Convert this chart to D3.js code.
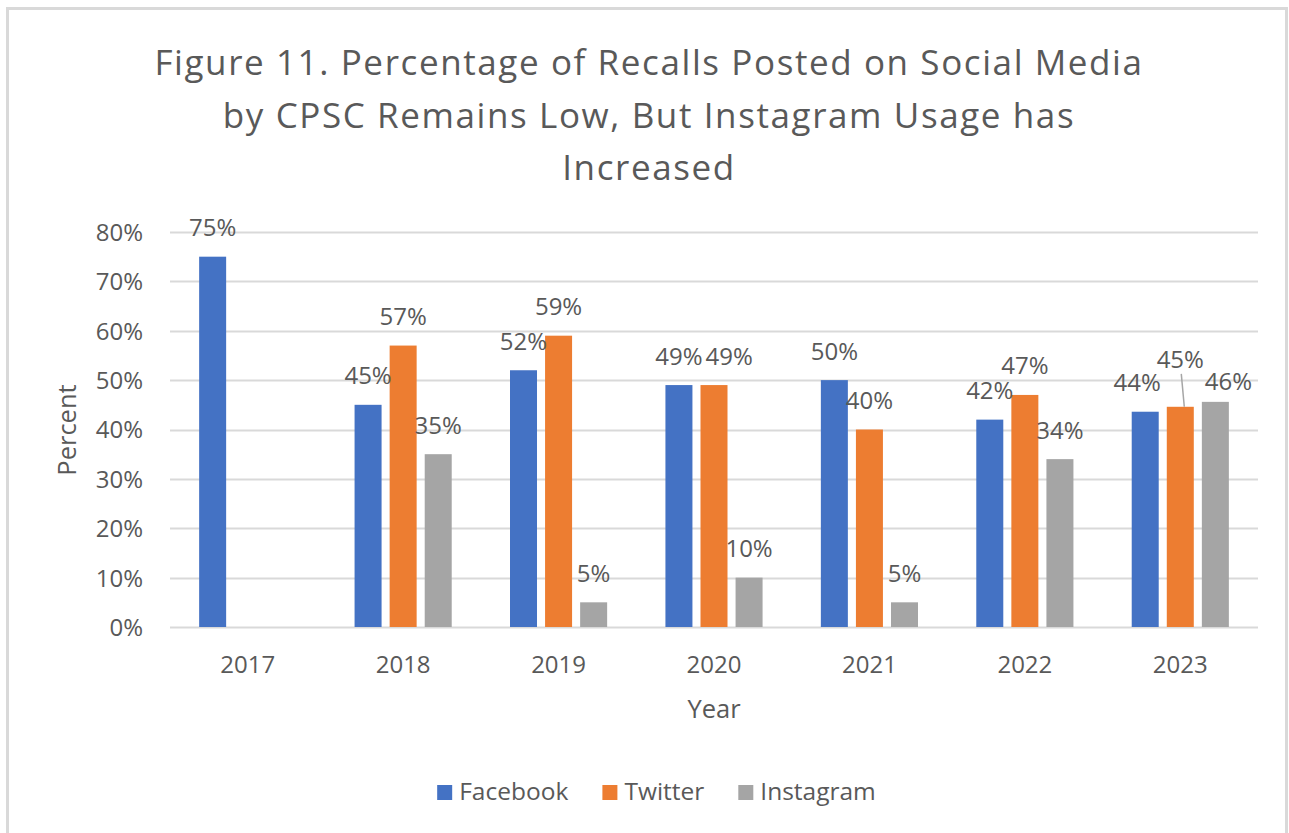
<!DOCTYPE html>
<html>
<head>
<meta charset="utf-8">
<script src="https://cdn.jsdelivr.net/npm/d3@7"></script>
<style>
  html, body { margin: 0; padding: 0; background: #fff; }
  svg { display: block; }
  text { font-family: "Open Sans", "Noto Sans", sans-serif; fill: #595959; }
</style>
</head>
<body>
<svg id="chart" width="1289" height="833"></svg>
<script>
// ---------- data ----------
const titleLines = [
  "Figure 11. Percentage of Recalls Posted on Social Media",
  "by CPSC Remains Low, But Instagram Usage has",
  "Increased"
];
const years = ["2017", "2018", "2019", "2020", "2021", "2022", "2023"];
const seriesNames = ["Facebook", "Twitter", "Instagram"];
const facebook  = [75, 45, 52, 49, 50, 42, 43.6];
const twitter   = [null, 57, 59, 49, 40, 47, 44.6];
const instagram = [null, 35, 5, 10, 5, 34, 45.6];
const yTicks = [0, 10, 20, 30, 40, 50, 60, 70, 80];
const xTitle = "Year";
const yTitle = "Percent";

// ---------- setup ----------
const colors = { Facebook: "#4472C4", Twitter: "#ED7D31", Instagram: "#A5A5A5" };
const values = { Facebook: facebook, Twitter: twitter, Instagram: instagram };

const svg = d3.select("#chart");
const plot = { left: 170, right: 1258, top: 232, bottom: 627 };

// chart border
svg.append("rect")
  .attr("x", 7.5).attr("y", 8.5)
  .attr("width", 1279).attr("height", 860)
  .attr("fill", "#fff")
  .attr("stroke", "#d9d9d9").attr("stroke-width", 3);

// title
svg.append("g").selectAll("text").data(titleLines).join("text")
  .attr("x", 649)
  .attr("y", (d, i) => 75 + i * 52.5)
  .attr("text-anchor", "middle")
  .style("font-size", "35px")
  .style("letter-spacing", "1.6px")
  .text(d => d);

// scales
const x0 = d3.scaleBand().domain(years)
  .range([plot.left, plot.right])
  .paddingInner(0.375).paddingOuter(0.1875);
const x1 = d3.scaleBand().domain(seriesNames)
  .range([0, x0.bandwidth()])
  .paddingInner(0.23).paddingOuter(0);
const y = d3.scaleLinear().domain([0, 80]).range([plot.bottom, plot.top]);

// gridlines
svg.append("g").selectAll("line").data(yTicks).join("line")
  .attr("x1", plot.left).attr("x2", plot.right)
  .attr("y1", d => Math.round(y(d)) + 0.5).attr("y2", d => Math.round(y(d)) + 0.5)
  .attr("stroke", "#d9d9d9").attr("stroke-width", 2);

// y axis (labels only)
const yAxis = d3.axisLeft(y).tickValues(yTicks).tickFormat(d => d + "%").tickSize(0).tickPadding(0);
const yg = svg.append("g").attr("transform", `translate(${plot.left - 27},0)`).call(yAxis);
yg.select(".domain").remove();
yg.selectAll("text").style("font-size", "24px").attr("fill", "#595959")
  .style("font-family", "'Open Sans', sans-serif").attr("dy", "0.35em");

// x axis (labels only)
const xAxis = d3.axisBottom(x0).tickSize(0).tickPadding(0);
const xg = svg.append("g").attr("transform", `translate(0,${plot.bottom})`).call(xAxis);
xg.select(".domain").remove();
xg.selectAll("text").style("font-size", "24px").attr("fill", "#595959")
  .style("font-family", "'Open Sans', sans-serif").attr("dy", null).attr("y", 46);

// axis titles
svg.append("text").attr("x", 714).attr("y", 718).attr("text-anchor", "middle")
  .style("font-size", "25.5px").text(xTitle);
svg.append("text").attr("transform", "translate(76,430) rotate(-90)").attr("text-anchor", "middle")
  .style("font-size", "25.5px").text(yTitle);

// bars
const barData = [];
years.forEach((yr, i) => {
  seriesNames.forEach(s => {
    const v = values[s][i];
    if (v !== null && v !== undefined) barData.push({ year: yr, series: s, value: v });
  });
});
svg.append("g").selectAll("rect").data(barData).join("rect")
  .attr("x", d => x0(d.year) + x1(d.series))
  .attr("y", d => y(d.value))
  .attr("width", x1.bandwidth())
  .attr("height", d => y(0) - y(d.value))
  .attr("fill", d => colors[d.series]);

// data labels
const labelG = svg.append("g");
const labels = barData.map(d => {
  const cx = x0(d.year) + x1(d.series) + x1.bandwidth() / 2;
  return { ...d, x: cx, cy: y(d.value) - 29, top: y(d.value), text: Math.round(d.value) + "%", leader: false };
});
labels.forEach(l => {
  const t = labelG.append("text").attr("text-anchor", "middle").style("font-size", "24px").text(l.text);
  l.node = t;
  l.w = t.node().getBBox().width;
});
const LH = 20;
const overlaps = (a, b) => Math.abs(a.x - b.x) < (a.w + b.w) / 2 && Math.abs(a.cy - b.cy) < LH;
years.forEach(yr => {
  const g = labels.filter(l => l.year === yr);
  // middle label squeezed between two neighbours -> lift with leader line
  for (let i = 1; i < g.length - 1; i++) {
    if (overlaps(g[i], g[i - 1]) && overlaps(g[i], g[i + 1])) {
      g[i].cy = Math.min(g[i - 1].cy, g[i + 1].cy) - 13;
      g[i].leader = true;
      g[i - 1].x -= 8;
      g[i + 1].x += 13;
      g[i + 1].cy += 9;
    }
  }
  // remaining pair overlaps -> push apart
  for (let i = 1; i < g.length; i++) {
    if (overlaps(g[i], g[i - 1])) {
      const need = (g[i].w + g[i - 1].w) / 2 - Math.abs(g[i].x - g[i - 1].x) + 5;
      g[i].x += need - 2;
      g[i - 1].x += 2 - 2;
    }
  }
});
labels.forEach(l => {
  l.node.attr("x", l.x).attr("y", l.cy + 8.5);
  if (l.leader) {
    labelG.append("line")
      .attr("x1", l.x + 1).attr("y1", l.cy + 14)
      .attr("x2", l.x + 4).attr("y2", l.top)
      .attr("stroke", "#a6a6a6").attr("stroke-width", 1.5);
  }
});

// legend
const legend = svg.append("g");
let lx = 0;
const gap = 34;
seriesNames.forEach(s => {
  const g = legend.append("g");
  g.append("rect").attr("x", 0).attr("y", -15).attr("width", 15).attr("height", 15).attr("fill", colors[s]);
  const t = g.append("text").attr("x", 22).attr("y", 0).style("font-size", "24.5px").text(s);
  const w = 22 + t.node().getBBox().width;
  g.attr("transform", `translate(${lx},0)`);
  lx += w + gap;
});
const totalW = lx - gap;
legend.attr("transform", `translate(${656.5 - totalW / 2},800)`);
</script>
</body>
</html>
